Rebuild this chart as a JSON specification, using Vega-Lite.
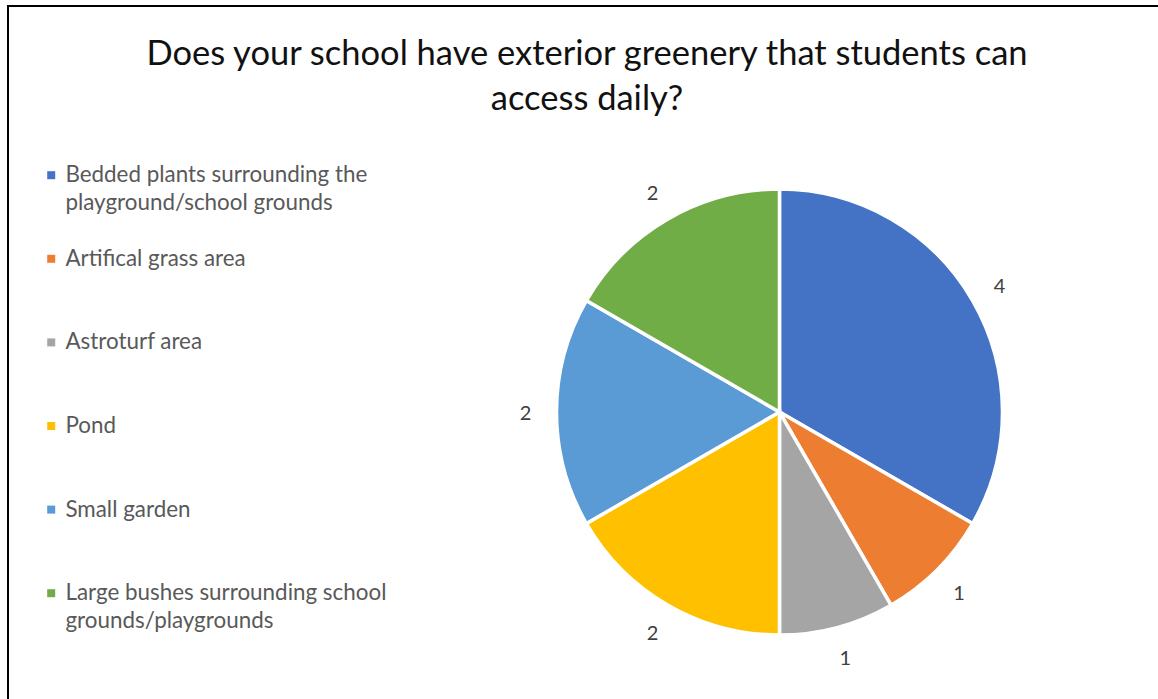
{
  "$schema": "https://vega.github.io/schema/vega-lite/v6.json",
  "width": 1152,
  "height": 695,
  "autosize": {"type": "none"},
  "padding": {"left": 8, "top": 6, "right": 0, "bottom": 0},
  "background": "white",
  "view": {"stroke": "black", "strokeWidth": 2, "fill": "white"},
  "config": {"view": {"stroke": "black", "strokeWidth": 2}, "font": "Lato", "style": {"guide-label": {"lineHeight": 28}}},
  "title": {
    "text": ["Does your school have exterior greenery that students can", "access daily?"],
    "fontSize": 34.5,
    "font": "Lato",
    "fontWeight": "normal",
    "color": "#111111",
    "lineHeight": 45,
    "anchor": "middle",
    "frame": "group",
    "dx": 3,
    "offset": -111
  },
  "data": {
    "values": [
      {"idx": 1, "category": "Bedded plants surrounding the playground/school grounds", "count": 4},
      {"idx": 2, "category": "Artifical grass area", "count": 1},
      {"idx": 3, "category": "Astroturf area", "count": 1},
      {"idx": 4, "category": "Pond", "count": 2},
      {"idx": 5, "category": "Small garden", "count": 2},
      {"idx": 6, "category": "Large bushes surrounding school grounds/playgrounds", "count": 2}
    ]
  },
  "layer": [
    {
      "mark": {
        "type": "arc",
        "radius": 223,
        "stroke": "white",
        "strokeWidth": 3.5,
        "x": {"expr": "width*0.6697"},
        "y": {"expr": "height*0.5842"}
      },
      "encoding": {
        "theta": {"field": "count", "type": "quantitative", "stack": true},
        "order": {"field": "idx", "type": "quantitative"},
        "color": {
          "field": "category",
          "type": "nominal",
          "scale": {
            "domain": [
              "Bedded plants surrounding the playground/school grounds",
              "Artifical grass area",
              "Astroturf area",
              "Pond",
              "Small garden",
              "Large bushes surrounding school grounds/playgrounds"
            ],
            "range": ["#4472C4", "#ED7D31", "#A5A5A5", "#FFC000", "#5B9BD5", "#70AD47"]
          },
          "legend": {
            "orient": "none",
            "legendX": 32,
            "legendY": 158,
            "title": null,
            "symbolType": "square",
            "symbolSize": 64,
            "symbolStrokeWidth": 0,
            "labelFontSize": 22.4,
            "labelFont": "Lato",
            "labelColor": "#595959",
            "labelLimit": 500,
            "labelOffset": 3,
            "rowPadding": 32.6,
            "gridAlign": "all",
            "padding": 0,
            "labelExpr": "datum.label == 'Bedded plants surrounding the playground/school grounds' ? ['Bedded plants surrounding the', 'playground/school grounds'] : datum.label == 'Large bushes surrounding school grounds/playgrounds' ? ['Large bushes surrounding school', 'grounds/playgrounds'] : datum.label"
          }
        }
      }
    },
    {
      "mark": {
        "type": "text",
        "radius": 254,
        "dy": 2,
        "fontSize": 20,
        "font": "Lato",
        "color": "#404040",
        "x": {"expr": "width*0.6697"},
        "y": {"expr": "height*0.5842"}
      },
      "encoding": {
        "theta": {"field": "count", "type": "quantitative", "stack": true},
        "order": {"field": "idx", "type": "quantitative"},
        "text": {"field": "count", "type": "quantitative"}
      }
    }
  ]
}
